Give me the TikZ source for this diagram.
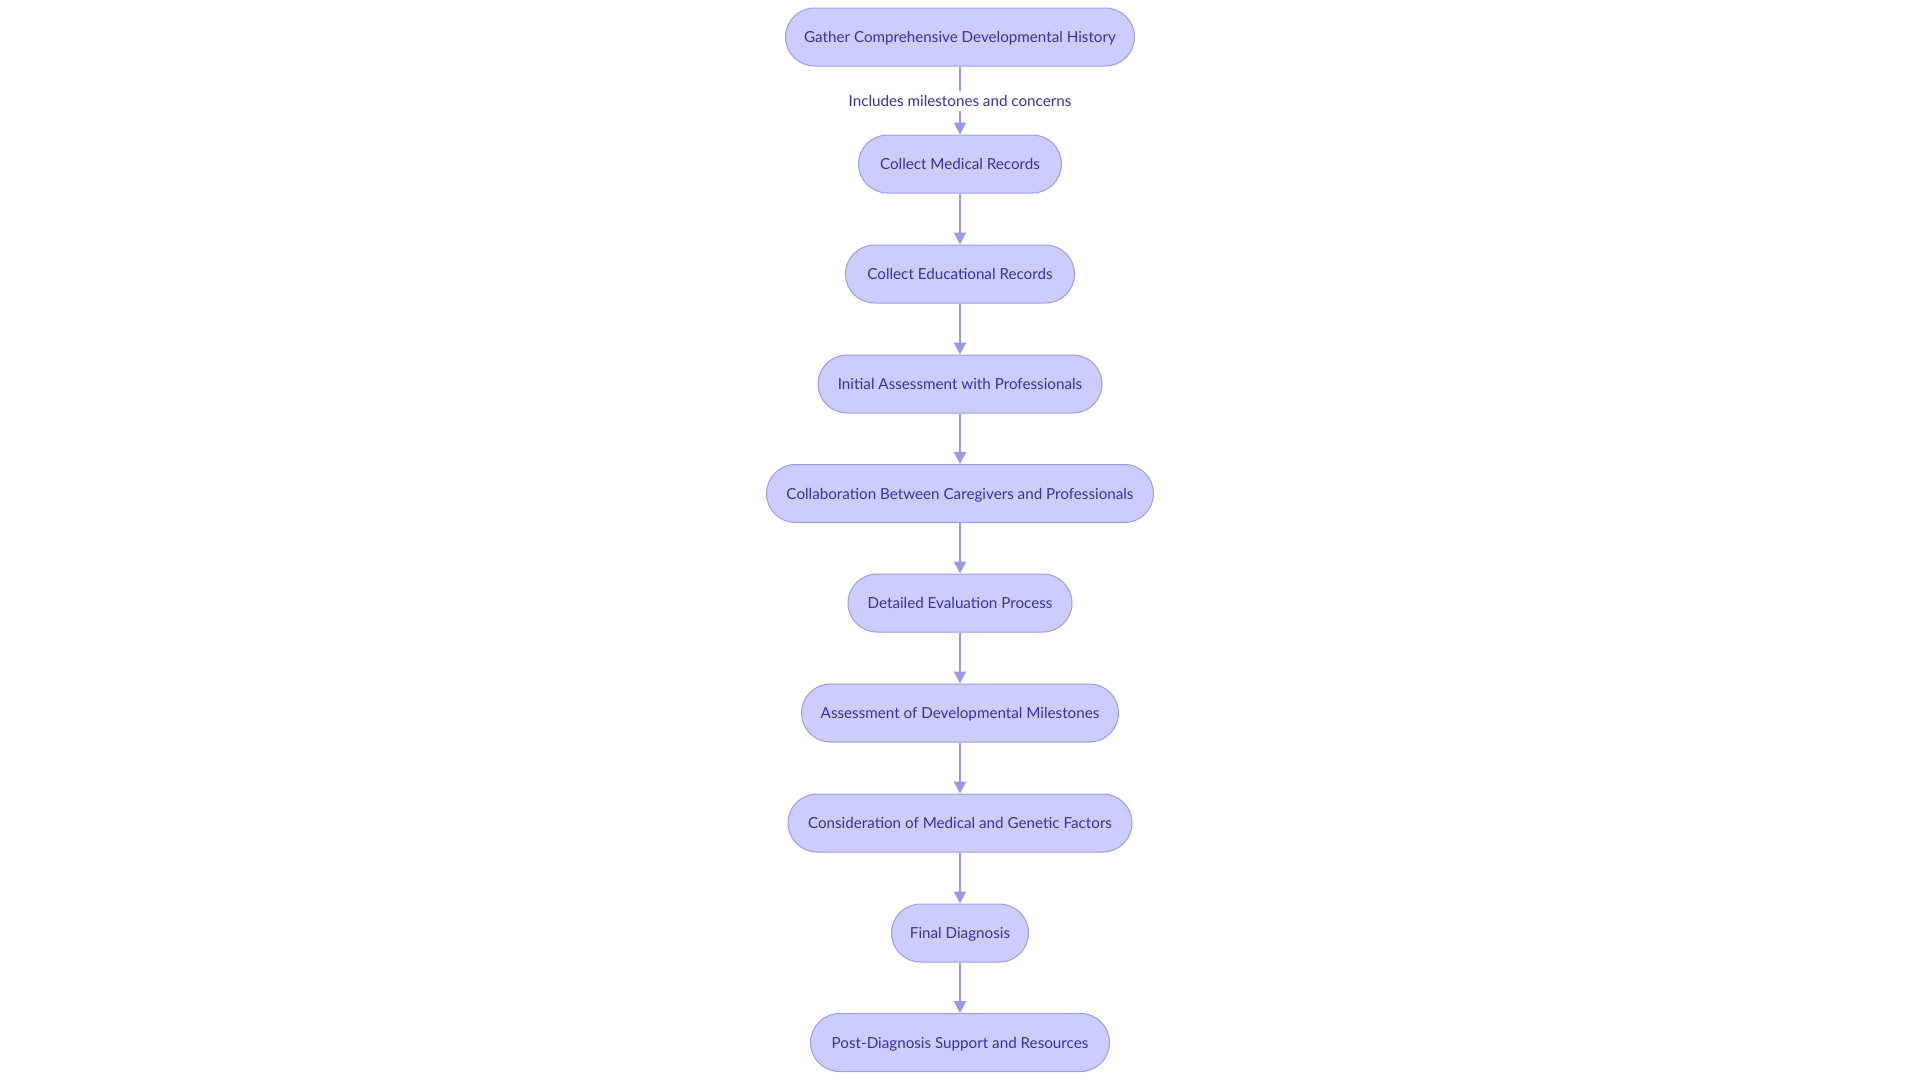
\documentclass[tikz,border=0pt]{standalone}
\usepackage{fontspec}
\setmainfont{Lato}
\usetikzlibrary{arrows.meta}
\definecolor{nodefill}{HTML}{CCCCFF}
\definecolor{nodedraw}{HTML}{9C9CE6}
\definecolor{nodetext}{HTML}{3434A8}
\definecolor{edgecol}{HTML}{9999E6}
\tikzset{
  flowbox/.style={draw=nodedraw, fill=nodefill, line width=1pt, rounded corners=29pt,
    minimum height=58pt, inner sep=0pt, text height=12.5pt, text depth=1.5pt, text=nodetext, font=\fontsize{15.2pt}{18pt}\selectfont},
  flowedge/.style={draw=edgecol, line width=2pt, -{Triangle[length=12pt,width=12pt]}},
  edgelabel/.style={fill=white, text=nodetext, inner sep=3pt, text height=12.5pt, text depth=1.5pt, font=\fontsize{15.2pt}{18pt}\selectfont}
}
\begin{document}
\begin{tikzpicture}[x=1pt,y=-1pt]
\useasboundingbox (0,0) rectangle (1920,1080);
\node[flowbox, minimum width=349pt] (n1) at (960,37) {Gather Comprehensive Developmental History};
\node[flowbox, minimum width=203pt] (n2) at (960,164) {Collect Medical Records};
\node[flowbox, minimum width=229pt] (n3) at (960,274) {Collect Educational Records};
\node[flowbox, minimum width=284pt] (n4) at (960,384) {Initial Assessment with Professionals};
\node[flowbox, minimum width=387pt] (n5) at (960,493.5) {Collaboration Between Caregivers and Professionals};
\node[flowbox, minimum width=224pt] (n6) at (960,603) {Detailed Evaluation Process};
\node[flowbox, minimum width=317pt] (n7) at (960,713) {Assessment of Developmental Milestones};
\node[flowbox, minimum width=344pt] (n8) at (960,823) {Consideration of Medical and Genetic Factors};
\node[flowbox, minimum width=137pt] (n9) at (960,933) {Final Diagnosis};
\node[flowbox, minimum width=299pt] (n10) at (960,1042.5) {Post-Diagnosis Support and Resources};
\draw[flowedge] (n1) -- node[edgelabel] {Includes milestones and concerns} (n2);
\draw[flowedge] (n2) -- (n3);
\draw[flowedge] (n3) -- (n4);
\draw[flowedge] (n4) -- (n5);
\draw[flowedge] (n5) -- (n6);
\draw[flowedge] (n6) -- (n7);
\draw[flowedge] (n7) -- (n8);
\draw[flowedge] (n8) -- (n9);
\draw[flowedge] (n9) -- (n10);
\end{tikzpicture}
\end{document}
